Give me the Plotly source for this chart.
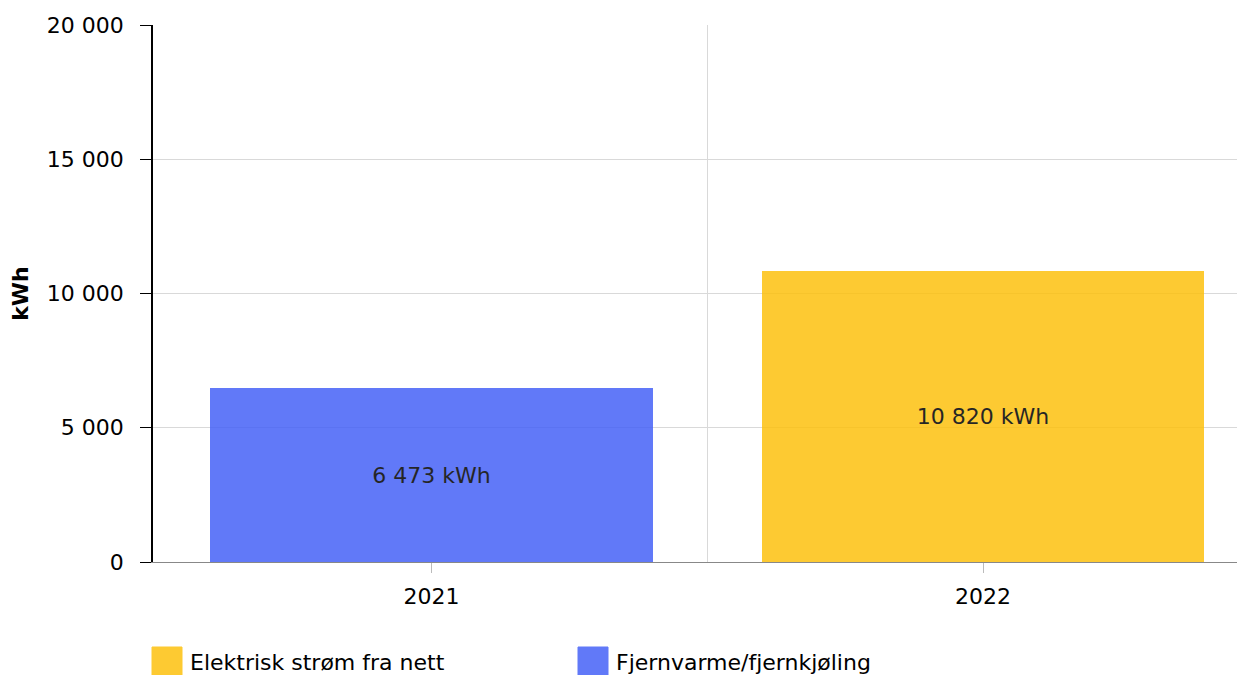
import plotly.graph_objects as go

categories = ["2021", "2022"]
series_names = ["Elektrisk strøm fra nett", "Fjernvarme/fjernkjøling"]
elektrisk = [None, 10820]
fjernvarme = [6473, None]
colors = ["#FDC10F", "#4662F7"]
y_ticks = [0, 5000, 10000, 15000, 20000]

# page has an 8px body margin; size the figure to fit the 1245x675 window
OFF = 8
W, H = 1245 - OFF, 675 - OFF
L, R, T, B = 153 - OFF, 0, 25 - OFF, H - (562 - OFF)
pw, ph = W - L - R, H - T - B

def px_x(p):  # page pixel -> paper x
    return (p - OFF - L) / pw

def px_y(p):  # page pixel -> paper y
    return (H - B - (p - OFF)) / ph

font = "DejaVu Sans, Verdana, sans-serif"
FS = 22
xpos = list(range(len(categories)))

fig = go.Figure()
for name, vals, col in [(series_names[0], elektrisk, colors[0]),
                        (series_names[1], fjernvarme, colors[1])]:
    fig.add_trace(go.Bar(
        x=xpos, y=vals, name=name, width=0.8,
        marker=dict(color=col, line=dict(color=col, width=1)),
        opacity=0.85,
        texttemplate="%{y:,.0f} kWh", textposition="inside",
        insidetextanchor="middle",
        textfont=dict(family=font, size=FS, color="black"),
        showlegend=False, hoverinfo="skip",
    ))

fig.update_layout(
    width=W, height=H,
    margin=dict(l=L, r=R, t=T, b=B),
    plot_bgcolor="white", paper_bgcolor="white",
    barmode="stack",
    separators=", ",
    font=dict(family=font, size=FS, color="black"),
)
fig.update_xaxes(
    range=[-0.505, 1.475],
    tickvals=xpos, ticktext=categories,
    showgrid=False, zeroline=False,
    showline=True, linecolor="#888888", linewidth=1,
    ticks="outside", ticklen=10, tickcolor="#bbbbbb",
    ticklabelstandoff=5,
    tickfont=dict(size=FS, family=font),
    minor=dict(tickvals=[0.5], showgrid=True, gridcolor="#d9d9d9", gridwidth=1, ticks=""),
)
fig.update_yaxes(
    range=[0, 20000], tickvals=y_ticks, tickformat=",d",
    showgrid=True, gridcolor="#d9d9d9", gridwidth=1,
    zeroline=False,
    showline=True, linecolor="black", linewidth=1.5,
    ticks="outside", ticklen=11, tickcolor="black",
    ticklabelstandoff=12,
    tickfont=dict(size=FS, family=font),
    title=dict(text="<b>kWh</b>", font=dict(size=FS, family=font), standoff=19),
)

# custom legend (large swatches)
legend_items = [(series_names[0], colors[0], 152), (series_names[1], colors[1], 578)]
for name, col, x0 in legend_items:
    fig.add_shape(type="rect", xref="paper", yref="paper",
                  x0=px_x(x0), x1=px_x(x0 + 30), y0=px_y(647), y1=px_y(675),
                  fillcolor=col, opacity=0.85, line=dict(color=col, width=1))
    fig.add_annotation(xref="paper", yref="paper", x=px_x(x0 + 36), y=px_y(662),
                       text=name, showarrow=False, xanchor="left", yanchor="middle",
                       font=dict(size=FS, family=font, color="black"))

fig.write_html("out.html")
